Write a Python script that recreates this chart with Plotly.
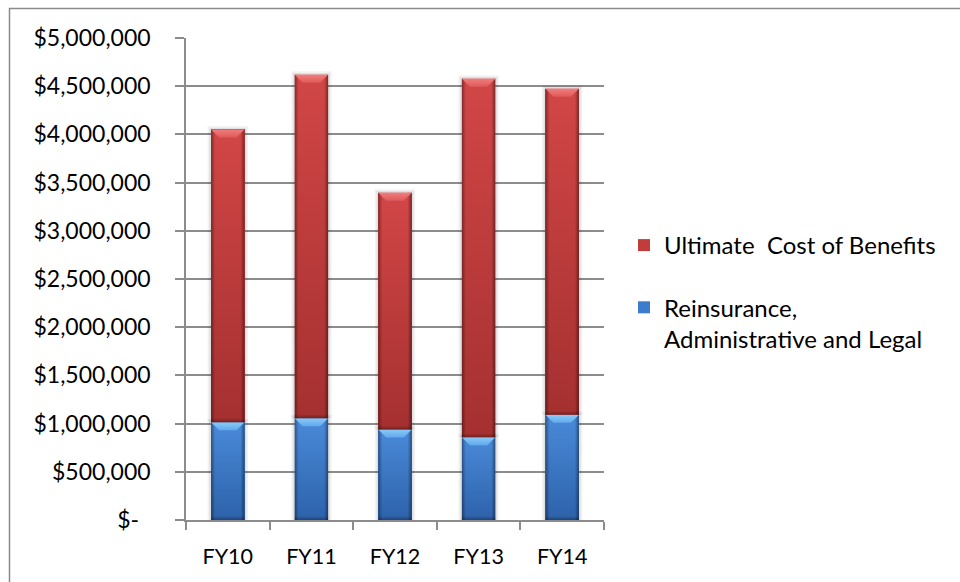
import plotly.graph_objects as go

# ---- data -------------------------------------------------------------
categories = ["FY10", "FY11", "FY12", "FY13", "FY14"]
reinsurance_admin_legal = [1015000, 1056000, 939000, 859000, 1091000]
ultimate_cost_benefits = [3036000, 3562000, 2455000, 3718000, 3382000]
y_tick_values = [0, 500000, 1000000, 1500000, 2000000, 2500000,
                 3000000, 3500000, 4000000, 4500000, 5000000]

# ---- layout geometry --------------------------------------------------
W, H = 960, 582
ML, MR, MT, MB = 186, 356, 38, 62
PLOT_W = W - ML - MR
PLOT_H = H - MT - MB
Y_MAX = 5000000
X_RANGE = [-0.5, len(categories) - 0.5]
BAR_W = 0.4

px_x = PLOT_W / (X_RANGE[1] - X_RANGE[0])   # pixels per category unit
px_y = PLOT_H / Y_MAX                        # pixels per dollar

FONT = "Lato, Calibri, Carlito, sans-serif"
GRID = "#8c8c8c"


def money(v):
    if v == 0:
        return "$-\u2002"
    return "${:,.0f}".format(v)


def px_to_paper_x(px):
    return (px - ML) / PLOT_W


def px_to_paper_y(py):
    return (H - MB - py) / PLOT_H


series = [
    dict(name="Reinsurance,<br>Administrative and Legal", values=reinsurance_admin_legal,
         base="#3d7ccc", top="#4a8ad9", bottom="#2d62aa",
         bevel_hi="#8acbf9", bevel_lo="#62a9ee", rank=2),
    dict(name="Ultimate\u00a0 Cost of Benefits", values=ultimate_cost_benefits,
         base="#c23c3c", top="#d24646", bottom="#a53030",
         bevel_hi="#f27c7c", bevel_lo="#de5a5a", rank=1),
]

fig = go.Figure()

# stacked columns
for s in series:
    fig.add_trace(go.Bar(
        x=list(range(len(categories))), y=s["values"], name=s["name"],
        width=BAR_W, marker=dict(color=s["base"], line=dict(width=0)),
        legendgroup="g%d" % s["rank"], legendrank=s["rank"], hoverinfo="skip",
    ))


def poly(xs, ys, **kw):
    fig.add_trace(go.Scatter(
        x=xs + [xs[0]], y=ys + [ys[0]], mode="lines", line=dict(width=0),
        fill="toself", showlegend=False, hoverinfo="skip", **kw))


# bevel shading on each stacked segment, positioned from the data values
edge_x = 4.0 / px_x
bev_x = 8.0 / px_x
bev_y = 8.0 / px_y
foot_y = 4.0 / px_y
shapes = []
bottoms = [0] * len(categories)
for s in series:
    for i, v in enumerate(s["values"]):
        b = bottoms[i]
        t = b + v
        xl, xr = i - BAR_W / 2, i + BAR_W / 2
        # soft drop shadow around the column
        for grow, alpha in ((3.5, 0.05), (1.8, 0.07)):
            shapes.append(dict(
                type="rect", xref="x", yref="y", layer="between",
                x0=xl - grow / px_x, x1=xr + grow / px_x,
                y0=b, y1=t + grow / px_y,
                fillcolor="rgba(0,0,0,%.3f)" % alpha, line=dict(width=0)))
        # vertical lighting: brighter at the top, darker toward the base
        poly([xl, xr, xr, xl], [b, b, t, t],
             fillgradient=dict(type="vertical", start=b, stop=t,
                               colorscale=[[0, s["bottom"]], [1, s["top"]]]))
        # darker base band
        poly([xl, xr, xr, xl], [b, b, b + foot_y, b + foot_y],
             fillgradient=dict(type="vertical", start=b, stop=b + foot_y,
                               colorscale=[[0, "rgba(0,0,0,0.30)"], [1, "rgba(0,0,0,0)"]]))
        # rounded side edges
        poly([xl, xl + edge_x, xl + edge_x, xl], [b, b, t, t],
             fillgradient=dict(type="horizontal", start=xl, stop=xl + edge_x,
                               colorscale=[[0, "rgba(0,0,0,0.38)"], [1, "rgba(0,0,0,0)"]]))
        poly([xr - edge_x, xr, xr, xr - edge_x], [b, b, t, t],
             fillgradient=dict(type="horizontal", start=xr - edge_x, stop=xr,
                               colorscale=[[0, "rgba(0,0,0,0)"], [1, "rgba(0,0,0,0.42)"]]))
        # lit top bevel
        poly([xl, xr, xr - bev_x, xl + bev_x], [t, t, t - bev_y, t - bev_y],
             fillgradient=dict(type="vertical", start=t - bev_y, stop=t,
                               colorscale=[[0, s["bevel_lo"]], [1, s["bevel_hi"]]]))
        bottoms[i] = t

# outer chart frame, running off the right and bottom of the page
shapes.append(dict(
    type="rect", xref="paper", yref="paper", layer="above",
    x0=px_to_paper_x(9.5), x1=px_to_paper_x(W + 6),
    y0=px_to_paper_y(H + 6), y1=px_to_paper_y(8.5),
    line=dict(color="#8a8a8a", width=1.5), fillcolor="rgba(0,0,0,0)"))

fig.update_layout(
    width=W, height=H,
    margin=dict(l=ML, r=MR, t=MT, b=MB, pad=0, autoexpand=False),
    paper_bgcolor="white", plot_bgcolor="white",
    barmode="stack", bargap=0.6,
    font=dict(family=FONT, color="#000000"),
    showlegend=True,
    legend=dict(
        x=px_to_paper_x(624), xanchor="left",
        y=px_to_paper_y(223), yanchor="top",
        traceorder="grouped", tracegroupgap=28, valign="top",
        font=dict(family=FONT, size=24, color="#000000"),
        bgcolor="rgba(0,0,0,0)",
    ),
    shapes=shapes,
    xaxis=dict(
        range=X_RANGE, tickmode="array", tickvals=list(range(len(categories))),
        ticktext=categories, ticks="", showgrid=False, zeroline=False,
        showline=True, linecolor=GRID, linewidth=1.5,
        tickfont=dict(family=FONT, size=21.5, color="#000000"),
        ticklabelstandoff=16,
        minor=dict(tickmode="linear", tick0=-0.5, dtick=1, ticks="outside",
                   ticklen=8, tickcolor=GRID, tickwidth=1.5, showgrid=False),
        fixedrange=True,
    ),
    yaxis=dict(
        range=[0, Y_MAX], tickmode="array", tickvals=y_tick_values,
        ticktext=[money(v) for v in y_tick_values],
        ticks="outside", ticklen=9, tickcolor=GRID, tickwidth=1.5,
        showgrid=True, gridcolor=GRID, gridwidth=1.5, zeroline=False,
        showline=True, linecolor=GRID, linewidth=1.5,
        tickfont=dict(family=FONT, size=23, color="#000000"),
        ticklabelstandoff=20, fixedrange=True,
    ),
)

fig.write_html("out.html")
